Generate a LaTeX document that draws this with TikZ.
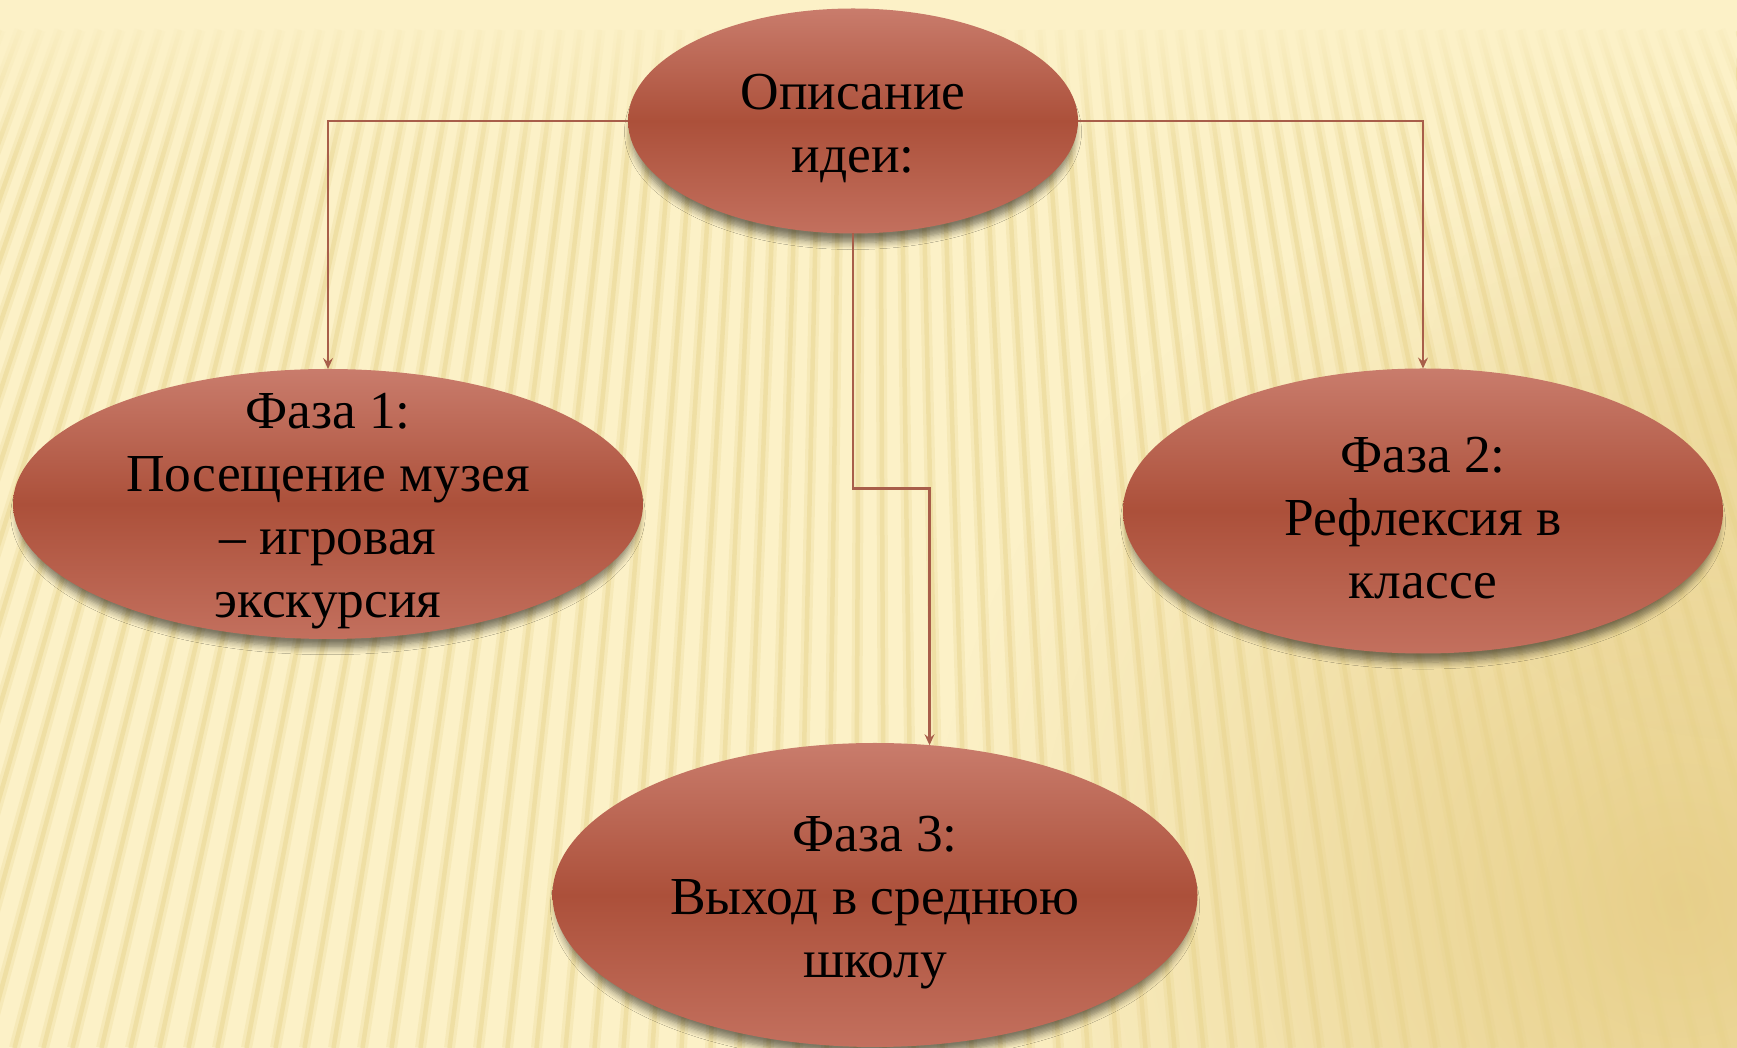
\documentclass[tikz,border=0pt]{standalone}
\usepackage{fontspec}
\setmainfont{Liberation Serif}
\usepackage{tikz}
\usetikzlibrary{positioning,shapes.geometric,arrows.meta,calc,shadows.blur,fadings}
\definecolor{bgcream}{RGB}{252,241,199}
\definecolor{stripe}{RGB}{232,211,140}
\definecolor{goldtint}{RGB}{226,198,122}
\definecolor{ovaltop}{RGB}{201,124,108}
\definecolor{ovalmid}{RGB}{172,80,58}
\definecolor{ovalbot}{RGB}{195,112,94}
\definecolor{linkcol}{RGB}{168,94,74}
\tikzfading[name=glowfade, inner color=transparent!0, outer color=transparent!100]
\newcommand{\lift}{\rule{0pt}{5.0mm}}
\tikzset{
  oval/.style={ellipse, draw=none, outer sep=0pt, inner xsep=0pt, inner ysep=-6mm,
               top color=ovaltop, bottom color=ovalbot, middle color=ovalmid,
               text=black, align=center, font=\fontsize{15.2}{17.9}\selectfont,
               blur shadow={shadow xshift=0pt, shadow yshift=-1.1mm, shadow scale=0.985,
                            shadow blur radius=0.7mm, shadow blur steps=6,
                            shadow opacity=50}},
  link/.style={-{Stealth[length=1.1mm, width=1mm, inset=0.4mm]}, line width=0.6pt, draw=linkcol},
  stripesoft/.style={draw=stripe, line width=1.1mm, opacity=0.25},
  stripeline/.style={draw=stripe, line width=0.45mm, opacity=0.45}
}

\begin{document}
\begin{tikzpicture}[x=0.1mm, y=-0.1mm, on grid]
  \useasboundingbox (0,0) rectangle (1737,1048);

  % Background
  \fill[bgcream] (0,0) rectangle (1737,1048);
  \begin{scope}
    \clip (0,0) rectangle (1737,1048);
    \fill[goldtint, opacity=0.8, path fading=glowfade] (1680,900) circle (750);
    \fill[goldtint, opacity=0.35, path fading=glowfade] (1737,420) circle (320);
    \foreach \i in {0,...,88}{
      \draw[stripesoft] ({\i*20},30) -- ({870+(\i*20-870)*1.45},1048);
      \draw[stripeline] ({\i*20},30) -- ({870+(\i*20-870)*1.45},1048);
    }
    \fill[bgcream, path fading=south] (0,0) rectangle (1737,170);
  \end{scope}

  % Idea
  \node[oval, minimum width=45mm, minimum height=22.5mm] (idea) at (853,121)
        {\lift Описание\\идеи:};

  % Phases
  \node[oval, minimum width=63mm, minimum height=27mm,
        below left=38.3mm and 52.5mm of idea] (phase1)
        {\lift Фаза 1:\\Посещение музея\\– игровая\\экскурсия};
  \node[oval, minimum width=60mm, minimum height=28.5mm,
        below right=39mm and 57mm of idea] (phase2)
        {\lift Фаза 2:\\Рефлексия в\\классе};
  \node[oval, minimum width=64.5mm, minimum height=30.4mm,
        below right=77.4mm and 2.2mm of idea] (phase3)
        {\lift Фаза 3:\\Выход в среднюю\\школу};

  % Links
  \foreach \a/\b in {west/phase1, east/phase2}{
    \draw[link] (idea.\a) -| (\b.north);
  }
  \draw[link] (idea.south) -- ++(0,255) -| (phase3.70);
\end{tikzpicture}
\end{document}
